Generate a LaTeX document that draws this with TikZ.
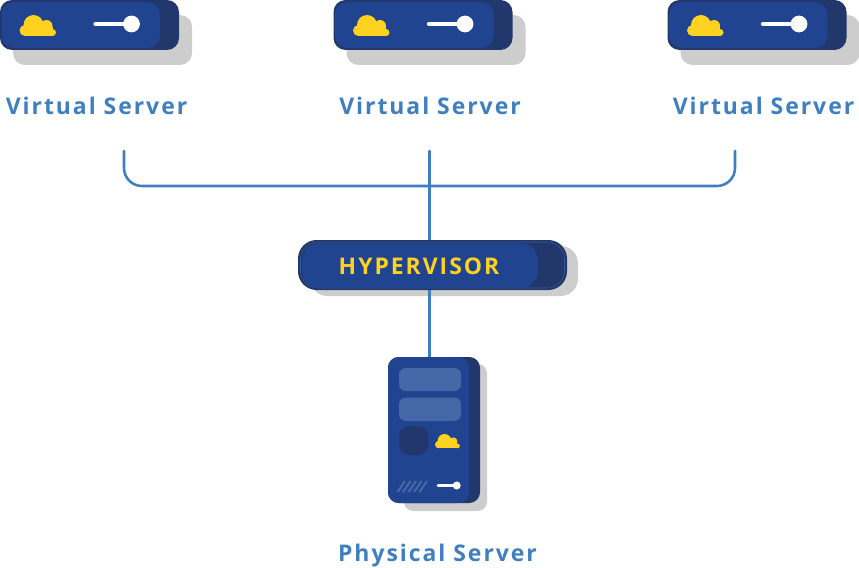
\documentclass[tikz,border=0pt]{standalone}
\usepackage{fontspec}
\usepackage{xcolor}
\usepackage{tikz}
\usetikzlibrary{backgrounds}
\newfontfamily\labelfont[LetterSpace=8.6]{Open Sans}
\definecolor{navydark}{HTML}{22376B}
\definecolor{navyblue}{HTML}{204490}
\definecolor{panelblue}{HTML}{4468A8}
\definecolor{sunyellow}{HTML}{FFD220}
\definecolor{wireblue}{HTML}{3F7FBF}
\definecolor{shadowgray}{HTML}{CDCDCD}
\tikzset{
  shell/.style={fill=navydark,inner sep=0pt,outer sep=0pt,rectangle},
  wire/.style={draw=wireblue,line width=1.9pt,line cap=round},
  caption/.style={text=wireblue,font=\labelfont\bfseries\fontsize{17.2}{20}\selectfont,inner sep=0pt},
}
% cloud, 37 by 21 from its top left corner: {x}{y}{scale}
\newcommand{\cloudicon}[3]{
  \begin{scope}[shift={(#1,#2)},scale=#3]
    \fill[sunyellow] (14,10) circle (10) (27,11) circle (6) (5.5,15.5) circle (5.5) (33,17.5) circle (3.5);
    \fill[sunyellow] (5,12) rectangle (33,21);
  \end{scope}
}
% {name}{x}
\newcommand{\vserver}[2]{
  \begin{scope}[shift={(#2,0)}]
    \scoped[on background layer] \fill[shadowgray,rounded corners=9pt] (13,15) rectangle (192,65);
    \node[shell,rounded corners=9pt,minimum width=134.25pt,minimum height=37.5pt] (#1) at (89.5,25) {};
    \fill[navyblue,rounded corners=9pt] (1.5,2) rectangle (160,48);
    \cloudicon{19.5}{15}{1}
    \draw[white,line width=3.3pt,line cap=round] (95.5,24) -- (126,24);
    \fill[white] (131.5,24) circle (8.4);
  \end{scope}
}
\begin{document}
\begin{tikzpicture}[x=0.75pt,y=0.75pt,yscale=-1,xscale=1]
\useasboundingbox (0,0) rectangle (859,567);
% virtual servers
\vserver{vsa}{0}
\vserver{vsb}{333.5}
\vserver{vsc}{667.5}
\node[caption] (laba) at (96.5,106) {Virtual Server};
\node[caption] (labb) at (430,106) {Virtual Server};
\node[caption] (labc) at (763.5,106) {Virtual Server};
% hypervisor
\scoped[on background layer] \fill[shadowgray,rounded corners=13pt] (310,246) rectangle (578,296);
\node[shell,rounded corners=14pt,minimum width=201.75pt,minimum height=37.5pt] (hyper) at (432.5,265) {};
\draw[panelblue!70!navydark,line width=0.4pt,rounded corners=13pt] (300.5,242) rectangle (564.5,288);
\fill[navyblue,rounded corners=13pt] (302,243) rectangle (538,288);
\node[text=sunyellow,font=\labelfont\bfseries\fontsize{17.2}{20}\selectfont,inner sep=0pt] (hyperlab) at (419,266.5) {HYPERVISOR};
% physical server
\scoped[on background layer] \fill[shadowgray,rounded corners=7pt] (404,364) rectangle (487,511);
\node[shell,rounded corners=8pt,minimum width=69pt,minimum height=109.5pt] (phys) at (434,430) {};
\fill[navyblue,rounded corners=8pt] (388,357) rectangle (469,503);
\fill[panelblue,rounded corners=5pt] (399,368) rectangle (461,391);
\fill[panelblue,rounded corners=5pt] (399,397.5) rectangle (461,421);
\fill[navydark,rounded corners=8pt] (399,426) rectangle (428.5,455);
\cloudicon{435}{434}{0.68}
\draw[white,line width=2.2pt,line cap=round] (438,485.5) -- (455,485.5);
\fill[white] (456.7,485.5) circle (4);
\foreach \i in {0,1,2,3,4}
  \draw[panelblue,line width=1.6pt] (397.5+5.5*\i,492) -- (405+5.5*\i,481);
\node[caption] (labp) at (437.5,556) {Physical Server};
% connectors
\coordinate (busl) at (124,151);
\coordinate (busm) at (429.6,186);
\coordinate (busr) at (735,151);
\coordinate (busc) at (429.6,151);
\begin{scope}[on background layer]
\draw[wire,rounded corners=13.5pt] (busl) |- (busm) -| (busr);
\draw[wire] (busc) -- (busc |- hyper.center);
\draw[wire] (busc |- hyper.center) -- (busc |- phys.center);
\end{scope}
\end{tikzpicture}
\end{document}
